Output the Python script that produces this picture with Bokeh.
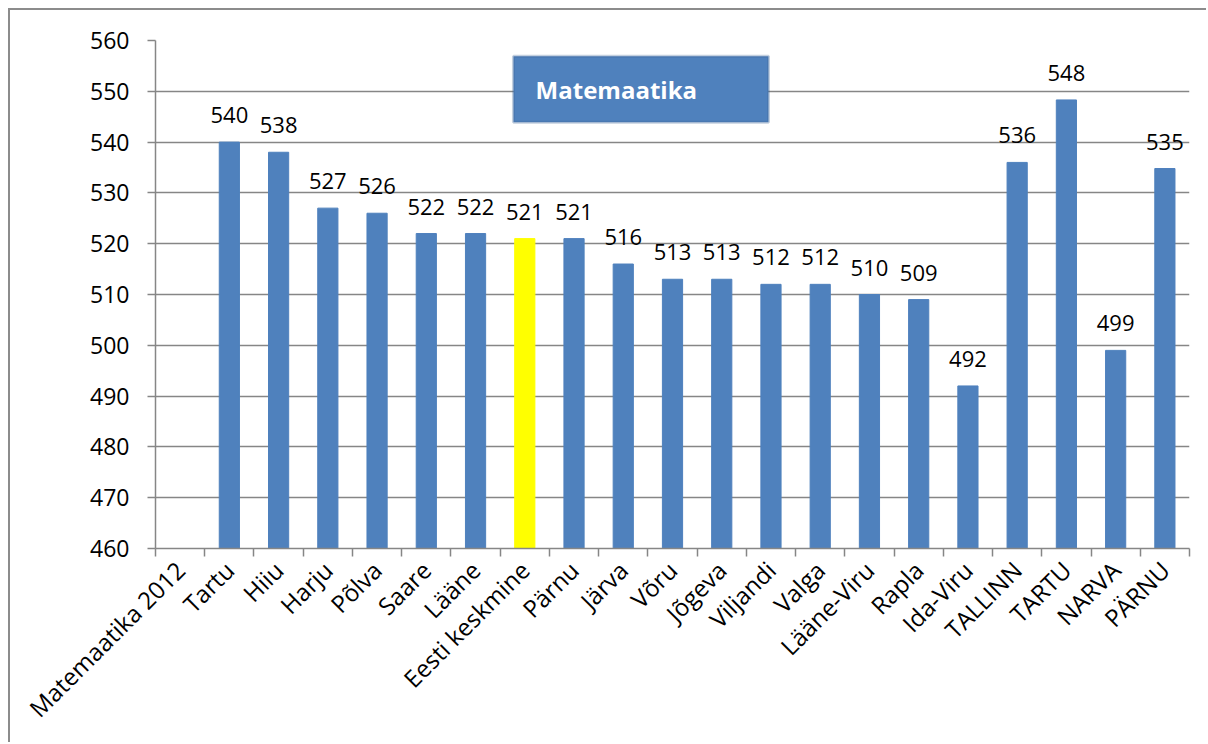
import math
from bokeh.plotting import figure
from bokeh.models import ColumnDataSource, FixedTicker, LabelSet, BoxAnnotation, Label, Range1d
from bokeh.core.properties import value
from bokeh.embed import file_html
from bokeh.resources import INLINE

categories = ["Matemaatika 2012", "Tartu", "Hiiu", "Harju", "Põlva", "Saare", "Lääne",
              "Eesti keskmine", "Pärnu", "Järva", "Võru", "Jõgeva", "Viljandi", "Valga",
              "Lääne-Viru", "Rapla", "Ida-Viru", "TALLINN", "TARTU", "NARVA", "PÄRNU"]
values = [None, 540, 538, 527, 526, 522, 522, 521, 521, 516, 513, 513, 512, 512,
          510, 509, 492, 536, 548.3, 499, 534.8]
highlight = "Eesti keskmine"
y_ticks = [460, 470, 480, 490, 500, 510, 520, 530, 540, 550, 560]
title_text = "Matemaatika"

BLUE = "#4f81bd"
GRID = "#868686"
FONT = "Open Sans"

xs, ys, cols, labs = [], [], [], []
for i, (c, v) in enumerate(zip(categories, values)):
    if v is None:
        continue
    xs.append(i + 0.5)
    ys.append(v)
    cols.append("#ffff00" if c == highlight else BLUE)
    labs.append(str(int(round(v))))
src = ColumnDataSource(dict(x=xs, top=ys, color=cols, label=labs))

n = len(categories)
p = figure(width=1198, height=734, output_backend="svg", toolbar_location=None,
           x_range=Range1d(0, n), y_range=Range1d(460, 560),
           min_border_left=145, min_border_right=19, min_border_top=30, min_border_bottom=196)
p.styles = {"border-left": "2px solid #8c8c8c", "border-top": "2px solid #8c8c8c",
            "margin-left": "8px", "margin-top": "8px"}
p.outline_line_color = None
p.background_fill_color = "white"
p.border_fill_color = "white"

p.vbar(x="x", top="top", bottom=460, width=0.41, fill_color="color", line_color="color",
       source=src)
labels = LabelSet(x="x", y="top", text="label", source=src, text_align="center",
                  text_baseline="alphabetic", y_offset=19, text_font=value(FONT),
                  text_font_size="22px", text_color="black")
p.add_layout(labels)

# title box
box = BoxAnnotation(left=7.27, right=12.45, bottom=543.9, top=556.9,
                    fill_color=BLUE, fill_alpha=1.0, line_color="#3d6496", line_width=3)
p.add_layout(box)
p.add_layout(Label(x=7.72, y=550.4, text=title_text, text_color="white",
                   text_font=FONT, text_font_style="bold", text_font_size="24px",
                   text_baseline="middle"))

# x axis
centers = [i + 0.5 for i in range(n)]
bounds = [float(i) for i in range(n + 1)]
p.xaxis.ticker = FixedTicker(ticks=centers, minor_ticks=bounds)
p.xaxis.major_label_overrides = {c: categories[i] for i, c in enumerate(centers)}
p.xaxis.major_label_orientation = math.pi / 4
p.xaxis.major_tick_line_color = None
p.xaxis.minor_tick_line_color = GRID
p.xaxis.minor_tick_line_width = 1.5
p.xaxis.minor_tick_out = 8
p.xaxis.minor_tick_in = 0
p.xaxis.axis_line_color = GRID
p.xaxis.axis_line_width = 1.5
p.xaxis.major_label_text_font = FONT
p.xaxis.major_label_text_font_size = "24px"
p.xaxis.major_label_text_color = "black"
p.xaxis.major_label_standoff = 9
p.xgrid.grid_line_color = None

# y axis
p.yaxis.ticker = FixedTicker(ticks=y_ticks)
p.yaxis.major_tick_out = 8
p.yaxis.major_tick_in = 0
p.yaxis.minor_tick_line_color = None
p.yaxis.major_tick_line_color = GRID
p.yaxis.major_tick_line_width = 1.5
p.yaxis.axis_line_color = GRID
p.yaxis.axis_line_width = 1.5
p.yaxis.major_label_text_font = FONT
p.yaxis.major_label_text_font_size = "23px"
p.yaxis.major_label_text_color = "black"
p.yaxis.major_label_standoff = 18
p.ygrid.grid_line_color = GRID
p.ygrid.grid_line_width = 1.5

open("out.html", "w").write(file_html(p, INLINE))
